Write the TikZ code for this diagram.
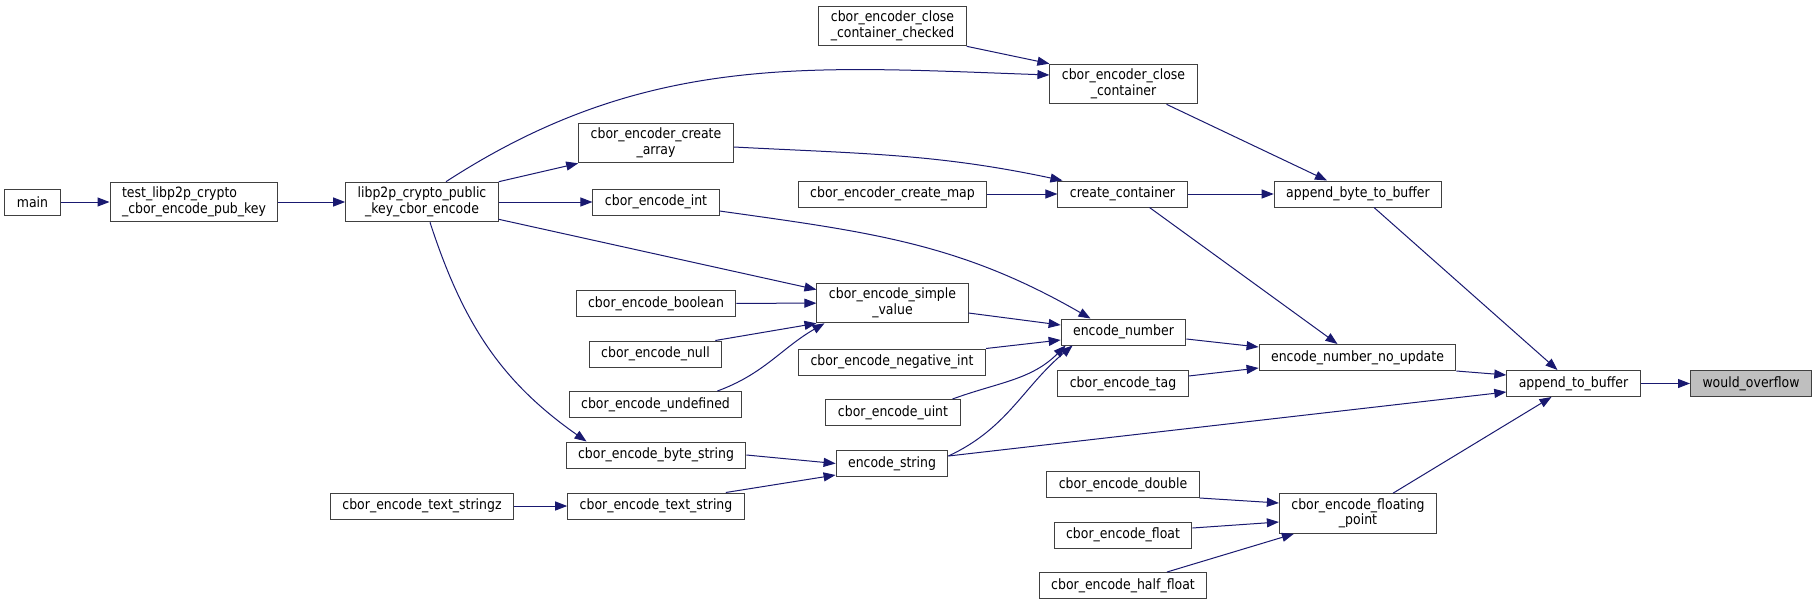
\documentclass[tikz,border=0pt]{standalone}
\usepackage{fontspec}
\setmainfont{DejaVu Sans}[FakeStretch=0.88]
\usepackage{tikz}
\usetikzlibrary{arrows.meta,positioning}
\definecolor{callBlue}{HTML}{191970}
\definecolor{boxEdge}{HTML}{404040}
\definecolor{selFill}{HTML}{BFBFBF}
\tikzset{
  fn/.style={draw=boxEdge, line width=1pt, fill=white, align=center, font=\fontsize{14.2}{15.5}\selectfont, inner xsep=12pt, inner ysep=5pt, minimum height=26pt},
  fnsel/.style={fn, fill=selFill},
  callarr/.style={draw=callBlue, line width=1pt, -{Triangle[length=12pt,width=9pt]}},
}

\begin{document}
\begin{tikzpicture}[x=1pt, y=-1pt]
\useasboundingbox[fill=white] (0,0) rectangle (1819,605);

\node[fn] (main) at (32.5,202) {main};
\node[fn, align=left] (testpub) at (194,202) {test\_libp2p\_crypto\\\_cbor\_encode\_pub\_key};
\node[fn] (pubkey) at (422,202) {libp2p\_crypto\_public\\\_key\_cbor\_encode};
\node[fn] (closechk) at (892.5,26) {cbor\_encoder\_close\\\_container\_checked};
\node[fn] (closecont) at (1123.5,84) {cbor\_encoder\_close\\\_container};
\node[fn] (mkarray) at (656,143) {cbor\_encoder\_create\\\_array};
\node[fn] (encint) at (656,202) {cbor\_encode\_int};
\node[fn] (mkmap) at (892.5,194) {cbor\_encoder\_create\_map};
\node[fn] (mkcont) at (1122.5,194) {create\_container};
\node[fn] (appbyte) at (1358,194) {append\_byte\_to\_buffer};
\node[fn] (simple) at (892.5,303) {cbor\_encode\_simple\\\_value};
\node[fn] (boolean) at (656,303.5) {cbor\_encode\_boolean};
\node[fn] (null) at (655.5,354) {cbor\_encode\_null};
\node[fn] (undef) at (655.5,404.5) {cbor\_encode\_undefined};
\node[fn] (encnum) at (1123.5,332) {encode\_number};
\node[fn] (negint) at (892,362) {cbor\_encode\_negative\_int};
\node[fn] (uint) at (893,412.5) {cbor\_encode\_uint};
\node[fn] (tag) at (1123,383.5) {cbor\_encode\_tag};
\node[fn] (numnoupd) at (1357.5,357.5) {encode\_number\_no\_update};
\node[fn] (appbuf) at (1573.5,383.5) {append\_to\_buffer};
\node[fnsel] (overflow) at (1751,383.5) {would\_overflow};
\node[fn] (bytestr) at (656,455) {cbor\_encode\_byte\_string};
\node[fn] (encstr) at (892,463.5) {encode\_string};
\node[fn] (textstrz) at (422,506) {cbor\_encode\_text\_stringz};
\node[fn] (textstr) at (656,506) {cbor\_encode\_text\_string};
\node[fn] (double) at (1123,484.5) {cbor\_encode\_double};
\node[fn] (float) at (1123,535) {cbor\_encode\_float};
\node[fn] (halffloat) at (1123,585.5) {cbor\_encode\_half\_float};
\node[fn] (floatpt) at (1358,513.5) {cbor\_encode\_floating\\\_point};

\draw[callarr] (main) -- (testpub);
\draw[callarr] (testpub) -- (pubkey);
\draw[callarr] (pubkey.north east) -- (mkarray.south west);
\draw[callarr] (pubkey) -- (encint);
\draw[callarr] ([xshift=24pt]pubkey.north) to[out=33,in=178] ([yshift=9pt]closecont.west);
\draw[callarr] ([yshift=3pt]pubkey.south east) -- (simple.170);
\draw[callarr] ([xshift=8pt]pubkey.south) to[out=-72,in=145] ([xshift=21pt]bytestr.north west);
\draw[callarr] (closechk.south east) -- (closecont.north west);
\draw[callarr] ([xshift=43pt]closecont.south) -- ([xshift=-31pt]appbyte.north);
\draw[callarr] ([yshift=-4pt]mkarray.east) to[out=-3,in=168] ([xshift=5pt]mkcont.north west);
\draw[callarr] (mkmap) -- (mkcont);
\draw[callarr] (mkcont) -- (appbyte);
\draw[callarr] ([xshift=27pt]mkcont.south) -- ([xshift=-20pt]numnoupd.north);
\draw[callarr] ([xshift=16pt]appbyte.south) -- ([xshift=-16pt]appbuf.north);
\draw[callarr] ([yshift=-9pt]encint.east) to[out=-8,in=150] ([xshift=-33pt]encnum.north);
\draw[callarr] (boolean) -- (simple);
\draw[callarr] ([xshift=-7pt]null.north east) -- (simple.south west);
\draw[callarr] ([xshift=-25pt]undef.north east) to[out=20,in=-150] ([xshift=8pt]simple.south west);
\draw[callarr] ([yshift=-10pt]simple.east) -- ([yshift=7pt]encnum.west);
\draw[callarr] (negint.north east) -- ([yshift=-8pt]encnum.west);
\draw[callarr] ([xshift=-8pt]uint.north east) to[out=20,in=-135] ([xshift=5pt]encnum.south west);
\draw[callarr] ([yshift=7.5pt]encstr.east) to[out=25,in=-140] ([xshift=12pt]encnum.south west);
\draw[callarr] (bytestr.east) -- (encstr.west);
\draw[callarr] ([xshift=-19pt]textstr.north east) -- ([yshift=-11.5pt]encstr.west);
\draw[callarr] ([yshift=7.5pt]encstr.east) -- ([yshift=-8.5pt]appbuf.west);
\draw[callarr] (textstrz) -- (textstr);
\draw[callarr] ([yshift=-7pt]encnum.east) -- ([yshift=10.5pt]numnoupd.west);
\draw[callarr] ([yshift=7.5pt]tag.east) -- ([yshift=-10.5pt]numnoupd.west);
\draw[callarr] (numnoupd.south east) -- ([yshift=8.5pt]appbuf.west);
\draw[callarr] ([xshift=35pt]floatpt.north) -- ([xshift=-22pt]appbuf.south);
\draw[callarr] (double.south east) -- ([yshift=10.5pt]floatpt.west);
\draw[callarr] ([yshift=7pt]float.east) -- ([yshift=-8.5pt]floatpt.west);
\draw[callarr] ([xshift=44pt]halffloat.north) -- ([xshift=15pt]floatpt.south west);
\draw[callarr] (appbuf) -- (overflow);
\end{tikzpicture}
\end{document}
